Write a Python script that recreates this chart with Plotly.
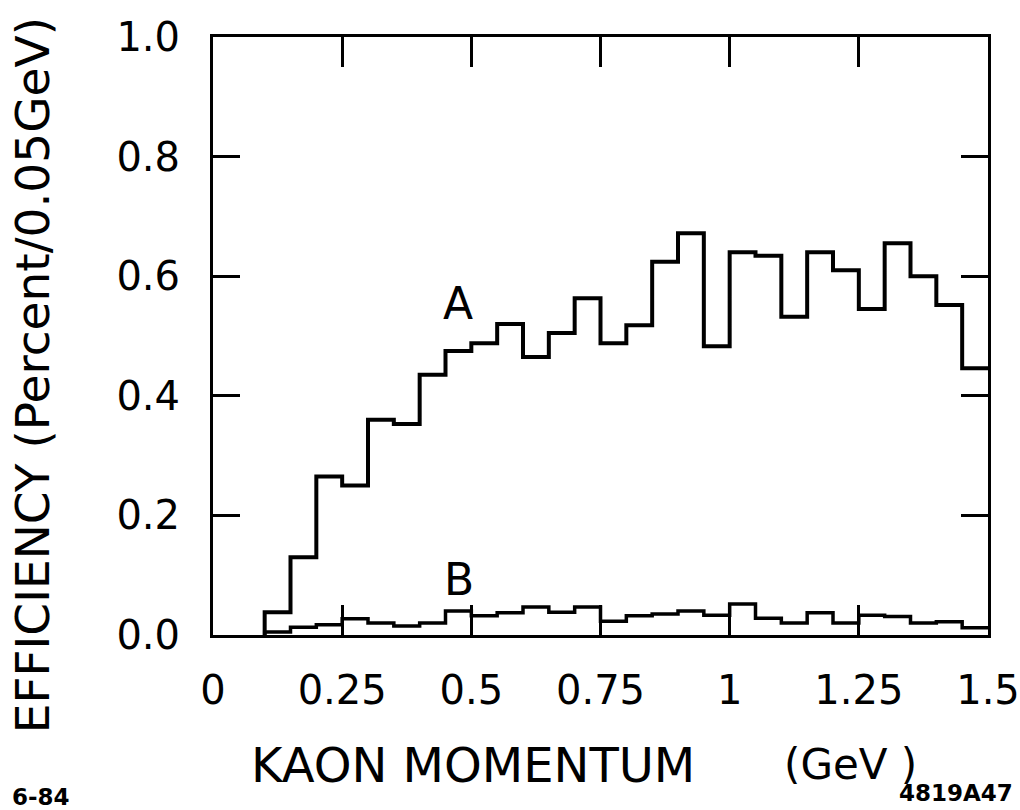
import plotly.graph_objects as go

# Bin lower edges (GeV), 0.05 GeV wide
bin_edges = [0.10, 0.15, 0.20, 0.25, 0.30, 0.35, 0.40, 0.45, 0.50, 0.55,
             0.60, 0.65, 0.70, 0.75, 0.80, 0.85, 0.90, 0.95, 1.00, 1.05,
             1.10, 1.15, 1.20, 1.25, 1.30, 1.35, 1.40, 1.45, 1.50]

# Efficiency per bin (percent / 0.05 GeV)
eff_a = [0.038, 0.130, 0.265, 0.250, 0.360, 0.353, 0.435, 0.475, 0.488, 0.520,
         0.465, 0.505, 0.563, 0.488, 0.518, 0.624, 0.672, 0.483, 0.640, 0.634,
         0.532, 0.640, 0.610, 0.545, 0.655, 0.600, 0.552, 0.446]
eff_b = [0.005, 0.013, 0.017, 0.027, 0.020, 0.015, 0.020, 0.040, 0.032, 0.037,
         0.047, 0.038, 0.047, 0.023, 0.032, 0.035, 0.040, 0.033, 0.052, 0.028,
         0.020, 0.037, 0.020, 0.033, 0.031, 0.020, 0.022, 0.012]

x_ticks = [0, 0.25, 0.5, 0.75, 1.0, 1.25, 1.5]
x_tick_text = ["0", "0.25", "0.5", "0.75", "1", "1.25", "1.5"]
y_ticks = [0.0, 0.2, 0.4, 0.6, 0.8, 1.0]
y_tick_text = ["0.0", "0.2", "0.4", "0.6", "0.8", "1.0"]


def step_series(edges, values):
    # histogram outline: rise from zero at the first edge, hold each bin value
    xs = [edges[0]] + list(edges)
    ys = [0.0] + list(values) + [values[-1]]
    return xs, ys


FONT = "DejaVu Sans"
INK = "black"

fig = go.Figure()
for vals, width in ((eff_a, 4), (eff_b, 3.5)):
    xs, ys = step_series(bin_edges, vals)
    fig.add_trace(go.Scatter(x=xs, y=ys, mode="lines",
                             line=dict(shape="hv", color=INK, width=width),
                             showlegend=False, hoverinfo="skip"))

fig.update_layout(
    width=1020, height=810,
    margin=dict(l=213, r=32, t=37, b=175),
    paper_bgcolor="white", plot_bgcolor="white",
    font=dict(family=FONT, color=INK),
)
fig.update_xaxes(
    range=[0, 1.5], showgrid=False, zeroline=False, automargin=False,
    showline=True, linewidth=3, linecolor=INK, mirror="ticks",
    ticks="inside", ticklen=30, tickwidth=3, tickcolor=INK,
    tickvals=x_ticks, ticktext=x_tick_text, ticklabeloverflow="allow",
    tickfont=dict(size=40, family=FONT), ticklabelstandoff=18,
)
fig.update_yaxes(
    range=[0, 1.0], showgrid=False, zeroline=False, automargin=False,
    showline=True, linewidth=3, linecolor=INK, mirror="ticks",
    ticks="inside", ticklen=27, tickwidth=3, tickcolor=INK,
    tickvals=y_ticks, ticktext=y_tick_text, ticklabeloverflow="allow",
    tickfont=dict(size=40, family=FONT), ticklabelstandoff=22,
)

# curve labels
fig.add_annotation(x=0.475, y=0.555, text="A", showarrow=False,
                   font=dict(size=44, family=FONT))
fig.add_annotation(x=0.477, y=0.093, text="B", showarrow=False,
                   font=dict(size=44, family=FONT))

# axis titles
fig.add_annotation(xref="paper", yref="paper", x=-0.233, y=0.435,
                   xanchor="center", yanchor="middle",
                   text="EFFICIENCY (Percent/0.05GeV)", textangle=-90,
                   showarrow=False, font=dict(size=47, family=FONT))
fig.add_annotation(xref="paper", yref="paper", x=0.047, y=-0.217,
                   xanchor="left", yanchor="middle", text="KAON MOMENTUM",
                   showarrow=False, font=dict(size=48, family=FONT))
fig.add_annotation(xref="paper", yref="paper", x=0.734, y=-0.217,
                   xanchor="left", yanchor="middle", text="(GeV )",
                   showarrow=False, font=dict(size=42, family=FONT))

# plate codes
fig.add_annotation(xref="paper", yref="paper", x=-0.262, y=-0.271,
                   xanchor="left", yanchor="middle", text="<b>6-84</b>",
                   showarrow=False, font=dict(size=23, family=FONT))
fig.add_annotation(xref="paper", yref="paper", x=1.035, y=-0.2645,
                   xanchor="right", yanchor="middle", text="<b>4819A47</b>",
                   showarrow=False, font=dict(size=23, family=FONT))

fig.write_html("out.html")
